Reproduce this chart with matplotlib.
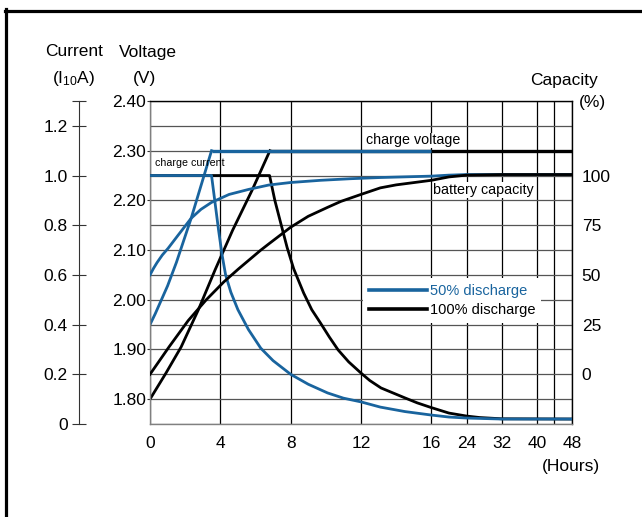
import numpy as np
import matplotlib.pyplot as plt
from matplotlib.lines import Line2D

plt.rcParams['font.family'] = ['Liberation Sans', 'DejaVu Sans']

BLUE = '#19649e'
W, H = 642, 517

# x tick hours (scale is squeezed after 16 h)
hour_ticks = [0, 4, 8, 12, 16, 24, 32, 40, 48]

# 50% discharge
v50_h = [0, 0.3, 0.6, 1.0, 1.5, 2.35, 3.5]
v50_v = [1.95, 1.972, 1.996, 2.028, 2.075, 2.165, 2.30]
cv50_h = [3.5, 16]
cv50_v = [2.30, 2.30]
i50_h = [0, 3.5, 3.7, 3.9, 4.1, 4.3, 4.6, 5.0, 5.6, 6.3, 7.0, 8, 9, 10.1, 11, 12, 13.1, 14.5, 16, 20, 24, 32, 48]
i50_i = [1.0, 1.0, 0.89, 0.78, 0.68, 0.6, 0.53, 0.46, 0.38, 0.305, 0.255, 0.2, 0.16, 0.125, 0.104, 0.089, 0.068, 0.05, 0.036, 0.028, 0.024, 0.02, 0.02]
c50_h = [0, 0.2, 0.4, 0.7, 1.03, 1.6, 2.34, 2.9, 3.5, 4.5, 5.6, 6.74, 8, 9.7, 11.4, 13.1, 16, 20, 24, 48]
c50_c = [50, 53.3, 56.2, 60, 63.4, 70, 78.5, 83, 86.5, 90.5, 93, 95.2, 96.5, 97.6, 98.4, 99, 99.7, 100.2, 100.5, 100.5]

# 100% discharge
v100_h = [0, 0.9, 1.77, 2.74, 3.7, 4.7, 5.8, 6.82]
v100_v = [1.80, 1.852, 1.905, 1.979, 2.06, 2.14, 2.22, 2.30]
cv100_h = [6.82, 48]
cv100_v = [2.30, 2.30]
i100_h = [0, 6.8, 7.1, 7.43, 7.8, 8.17, 8.74, 9.2, 9.7, 10.2, 10.7, 11.3, 12, 12.5, 13.14, 14.5, 15.2, 16, 20, 24, 27, 32, 48]
i100_i = [1.0, 1.0, 0.9, 0.81, 0.71, 0.625, 0.527, 0.46, 0.406, 0.35, 0.298, 0.25, 0.205, 0.175, 0.145, 0.105, 0.085, 0.066, 0.044, 0.032, 0.026, 0.021, 0.02]
c100_h = [0, 1.1, 2.17, 3.2, 4.2, 5.03, 6.29, 6.74, 8, 9, 10.1, 10.86, 12, 13.1, 14, 16, 20, 24, 32, 48]
c100_c = [0, 14, 27, 37.5, 46.5, 53, 62.4, 65.5, 74, 79.5, 84, 87, 90.5, 93.8, 95.3, 97.6, 99.3, 100.2, 100.5, 100.5]


def fwd(h):
    h = np.asarray(h, dtype=float)
    return np.where(h <= 16, h, 16 + (h - 16) / 4)


def inv(p):
    p = np.asarray(p, dtype=float)
    return np.where(p <= 16, p, 16 + (p - 16) * 4)


fig = plt.figure(figsize=(W / 100, H / 100), dpi=100)
ax = fig.add_axes([150 / W, (H - 424) / H, 422 / W, 323 / H])
ax.set_xscale('function', functions=(fwd, inv))
ax.set_xlim(0, 48)
ax.set_ylim(1.75, 2.40)

# grid
ax.set_xticks(hour_ticks)
ax.set_xticks([44], minor=True)
ax.set_xticklabels([str(h) for h in hour_ticks])
ax.set_yticks(np.arange(1.80, 2.401, 0.1))
ax.set_yticklabels(['%.2f' % v for v in np.arange(1.80, 2.401, 0.1)])
ax.set_yticks(np.arange(1.75, 2.40, 0.1), minor=True)
ax.set_axisbelow(True)
ax.grid(True, axis='x', which='both', color='black', lw=0.9)
ax.grid(True, axis='y', which='both', color='#555555', lw=0.9)
ax.tick_params(axis='x', which='both', length=0, pad=9, labelsize=12.5)
ax.tick_params(axis='y', which='major', length=2.2, pad=0.5, labelsize=12.5, color='#333333')
ax.tick_params(axis='y', which='minor', length=0)
ax.spines['top'].set_color('black')
ax.spines['right'].set_color('black')
ax.spines['left'].set_color('#808080')
ax.spines['bottom'].set_color('#808080')
for s in ax.spines.values():
    s.set_linewidth(1.0)

# voltage curves
ax.plot(v100_h, v100_v, color='black', lw=2.0)
ax.plot(cv100_h, cv100_v, color='black', lw=2.4, solid_capstyle='butt')
ax.plot(v50_h, v50_v, color=BLUE, lw=2.0)
ax.plot(cv50_h, cv50_v, color=BLUE, lw=2.4, solid_capstyle='butt')

ax.text(12.3, 2.321, 'charge voltage', fontsize=10.3, va='center', ha='left',
        bbox=dict(facecolor='white', edgecolor='none', pad=0.5))
ax.text(16.45, 2.221, 'battery capacity', fontsize=10.3, va='center', ha='left',
        bbox=dict(facecolor='white', edgecolor='none', pad=0.5))
ax.text(0.3, 2.275, 'charge current', fontsize=7.7, va='center', ha='left')

# current axis (far left)
axc = ax.twinx()
axc.set_ylim(0, 1.3)
axc.yaxis.set_ticks_position('left')
axc.spines['left'].set_position(('axes', -71 / 422))
axc.spines['left'].set_visible(True)
axc.spines['left'].set_color('#333333')
for side in ['right', 'top', 'bottom']:
    axc.spines[side].set_visible(False)
cur_ticks = [0, 0.2, 0.4, 0.6, 0.8, 1.0, 1.2, 1.3]
cur_labels = ['0', '0.2', '0.4', '0.6', '0.8', '1.0', '1.2', '']
axc.set_yticks(cur_ticks)
axc.set_yticklabels(cur_labels)
axc.tick_params(axis='y', direction='inout', length=10, pad=3, labelsize=12.5, color='#333333')

l100, = axc.plot(i100_h, i100_i, color='black', lw=2.0)
l50, = axc.plot(i50_h, i50_i, color=BLUE, lw=2.0)

# capacity axis (right)
axp = ax.twinx()
axp.set_ylim(-25, 137.5)
axp.set_yticks([0, 25, 50, 75, 100])
axp.set_yticklabels(['0', '25', '50', '75', '100'])
axp.tick_params(axis='y', length=0, pad=7, labelsize=12.5)
for s in axp.spines.values():
    s.set_visible(False)
axp.plot(c50_h, c50_c, color=BLUE, lw=2.0)
axp.plot(c100_h, c100_c, color='black', lw=2.0)

leg = axp.legend([l50, l100], ['50% discharge', '100% discharge'], loc='upper left',
                 bbox_to_anchor=(0.488, 0.475), fontsize=10.5, handlelength=4.0,
                 handletextpad=0.15, labelspacing=0.38, borderpad=0.4, frameon=True,
                 fancybox=False, edgecolor='none', facecolor='white', framealpha=1,
                 labelcolor=[BLUE, 'black'])
for ln in leg.get_lines():
    ln.set_linewidth(2.6)

# axis titles
def ftext(x, y, s, **kw):
    fig.text(x / W, 1 - y / H, s, ha='center', va='center', fontsize=12.5, **kw)

ftext(74, 52, 'Current')
ftext(74, 78, r'(I$\mathregular{_{10}}$A)')
ftext(148, 52, 'Voltage')
ftext(145, 78, '(V)')
ftext(564, 80, 'Capacity')
ftext(592, 103, '(%)')
ftext(571, 467, '(Hours)')

# frame lines
fig.add_artist(Line2D([5 / W, 1], [1 - 10.5 / H] * 2, transform=fig.transFigure, color='black', lw=2.3))
fig.add_artist(Line2D([6 / W] * 2, [0, 1 - 9 / H], transform=fig.transFigure, color='black', lw=2.3))

fig.savefig('out.png', dpi=100)
